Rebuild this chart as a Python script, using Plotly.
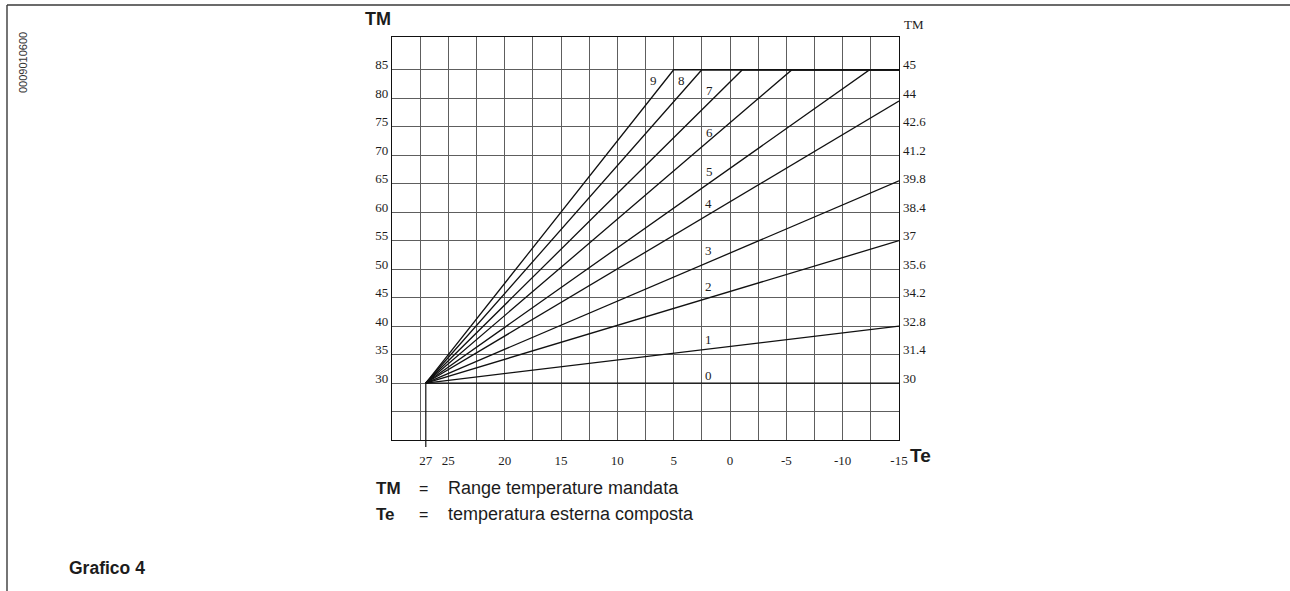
import plotly.graph_objects as go

# ---------------- data ----------------
te_tick_vals = [27, 25, 20, 15, 10, 5, 0, -5, -10, -15]
tm_left_vals = [30, 35, 40, 45, 50, 55, 60, 65, 70, 75, 80, 85]
tm_right_text = ["30", "31.4", "32.8", "34.2", "35.6", "37", "38.4", "39.8",
                 "41.2", "42.6", "44", "45"]

curve_names = ["0", "1", "2", "3", "4", "5", "6", "7", "8", "9"]
origin_te = 27
origin_tm = 30
curve_end_te = [-15, -15, -15, -15, -15, -12.4, -5.5, -1.1, 2.5, 5.0]
curve_end_tm = [30, 40, 55, 65.5, 79.5, 85, 85, 85, 85, 85]
cap_tm = 85
te_min, te_max = -15, 30
tm_min, tm_max = 20, 90.75

label_te = [1.9, 1.9, 1.9, 1.9, 1.9, 1.8, 1.8, 1.8, 4.3, 6.8]
label_tm = [31.4, 37.6, 47.0, 53.2, 61.6, 67.1, 74.0, 81.4, 83.1, 83.1]

# ---------------- layout helpers ----------------
W, H = 1290, 591
L, R, T, B = 392, 899, 37, 440


def px(x):
    return (x - L) / (R - L)


def py(y):
    return (B - y) / (B - T)


SERIF = "Liberation Serif"
SANS = "Liberation Sans"
INK = "#1c1c1c"
GRID = "#5e5e5e"

fig = go.Figure()

for name, ete, etm in zip(curve_names, curve_end_te, curve_end_tm):
    xs = [origin_te, ete]
    ys = [origin_tm, etm]
    if ete > te_min:
        xs.append(te_min)
        ys.append(cap_tm)
    fig.add_trace(go.Scatter(x=xs, y=ys, mode="lines", name=name,
                             line=dict(color="#111111", width=1.3),
                             showlegend=False, hoverinfo="skip"))

# invisible trace to activate secondary axes
fig.add_trace(go.Scatter(x=[te_min, te_max], y=[tm_min, tm_max], xaxis="x2", yaxis="y2",
                         mode="markers", marker=dict(opacity=0), showlegend=False,
                         hoverinfo="skip"))

for name, lx, ly in zip(curve_names, label_te, label_tm):
    fig.add_annotation(x=lx, y=ly, text=name, showarrow=False,
                       font=dict(family=SERIF, size=13, color=INK))

grid_y_vals = [25] + tm_left_vals
fig.update_layout(
    width=W, height=H,
    margin=dict(l=L, r=W - R, t=T, b=H - B),
    paper_bgcolor="white", plot_bgcolor="white",
    xaxis=dict(range=[te_max, te_min], tickmode="linear", tick0=te_max, dtick=2.5,
               showticklabels=False, showgrid=True, gridcolor=GRID, gridwidth=1,
               zeroline=False, showline=True, linecolor="#111111", linewidth=1.2,
               mirror=True, ticks=""),
    xaxis2=dict(range=[te_max, te_min], overlaying="x", anchor="y", side="bottom",
                tickmode="array", tickvals=te_tick_vals,
                ticktext=[str(v) for v in te_tick_vals],
                showgrid=False, zeroline=False, showline=False, ticks="",
                ticklabelstandoff=11,
                tickfont=dict(family=SERIF, size=13, color=INK)),
    yaxis=dict(range=[tm_min, tm_max], tickmode="array", tickvals=grid_y_vals,
               ticktext=[""] + [str(v) for v in tm_left_vals],
               showgrid=True, gridcolor=GRID, gridwidth=1, zeroline=False,
               showline=True, linecolor="#111111", linewidth=1.2, mirror=True,
               ticks="", ticklabelshift=-5, ticklabelstandoff=0,
               tickfont=dict(family=SERIF, size=13, color=INK)),
    yaxis2=dict(range=[tm_min, tm_max], overlaying="y", anchor="x", side="right",
                tickmode="array", tickvals=tm_left_vals, ticktext=tm_right_text,
                showgrid=False, zeroline=False, showline=False, ticks="",
                ticklabelshift=-5, ticklabelstandoff=3,
                tickfont=dict(family=SERIF, size=13, color=INK)),
)

# stub of the vertical line at Te = 27 below the axis
fig.add_shape(type="line", xref="x", yref="paper", x0=origin_te, x1=origin_te,
              y0=py(447), y1=(origin_tm - tm_min) / (tm_max - tm_min),
              line=dict(color="#111111", width=1.2))

# page border lines
fig.add_shape(type="line", xref="paper", yref="paper", x0=px(7), x1=px(1290),
              y0=py(5), y1=py(5), line=dict(color="#3a3a3a", width=1.4))
fig.add_shape(type="line", xref="paper", yref="paper", x0=px(7), x1=px(7),
              y0=py(5), y1=py(591), line=dict(color="#3a3a3a", width=1.4))

# texts
texts = [
    dict(x=378, y=19, text="<b>TM</b>", font=dict(family=SANS, size=18, color=INK)),
    dict(x=914, y=24, text="TM", font=dict(family=SERIF, size=13, color=INK)),
    dict(x=920, y=455, text="<b>Te</b>", font=dict(family=SANS, size=19, color=INK)),
]
for t in texts:
    fig.add_annotation(x=px(t["x"]), y=py(t["y"]), xref="paper", yref="paper",
                       text=t["text"], showarrow=False, font=t["font"],
                       xanchor="center", yanchor="middle")

legend_rows = [("TM", "Range temperature mandata", 488),
               ("Te", "temperatura esterna composta", 514)]
for key, desc, yy in legend_rows:
    fig.add_annotation(x=px(374), y=py(yy), xref="paper", yref="paper",
                       text="<b>" + key + "</b>", showarrow=False,
                       xanchor="left", yanchor="middle",
                       font=dict(family=SANS, size=17, color=INK))
    fig.add_annotation(x=px(423), y=py(yy), xref="paper", yref="paper",
                       text="=", showarrow=False, xanchor="center", yanchor="middle",
                       font=dict(family=SANS, size=16, color=INK))
    fig.add_annotation(x=px(446), y=py(yy), xref="paper", yref="paper",
                       text=desc, showarrow=False, xanchor="left", yanchor="middle",
                       font=dict(family=SANS, size=18, color=INK))

fig.add_annotation(x=px(67), y=py(568), xref="paper", yref="paper",
                   text="<b>Grafico 4</b>", showarrow=False, xanchor="left",
                   yanchor="middle", font=dict(family=SANS, size=17.5, color=INK))

fig.add_annotation(x=px(23), y=py(63), xref="paper", yref="paper",
                   text="0009010600", showarrow=False, textangle=-90,
                   xanchor="center", yanchor="middle",
                   font=dict(family=SANS, size=11, color="#333333"))

fig.write_html("out.html",
               config={"displayModeBar": False},
               post_script="document.body.style.margin='0';"
                           "document.body.style.overflow='hidden';")
